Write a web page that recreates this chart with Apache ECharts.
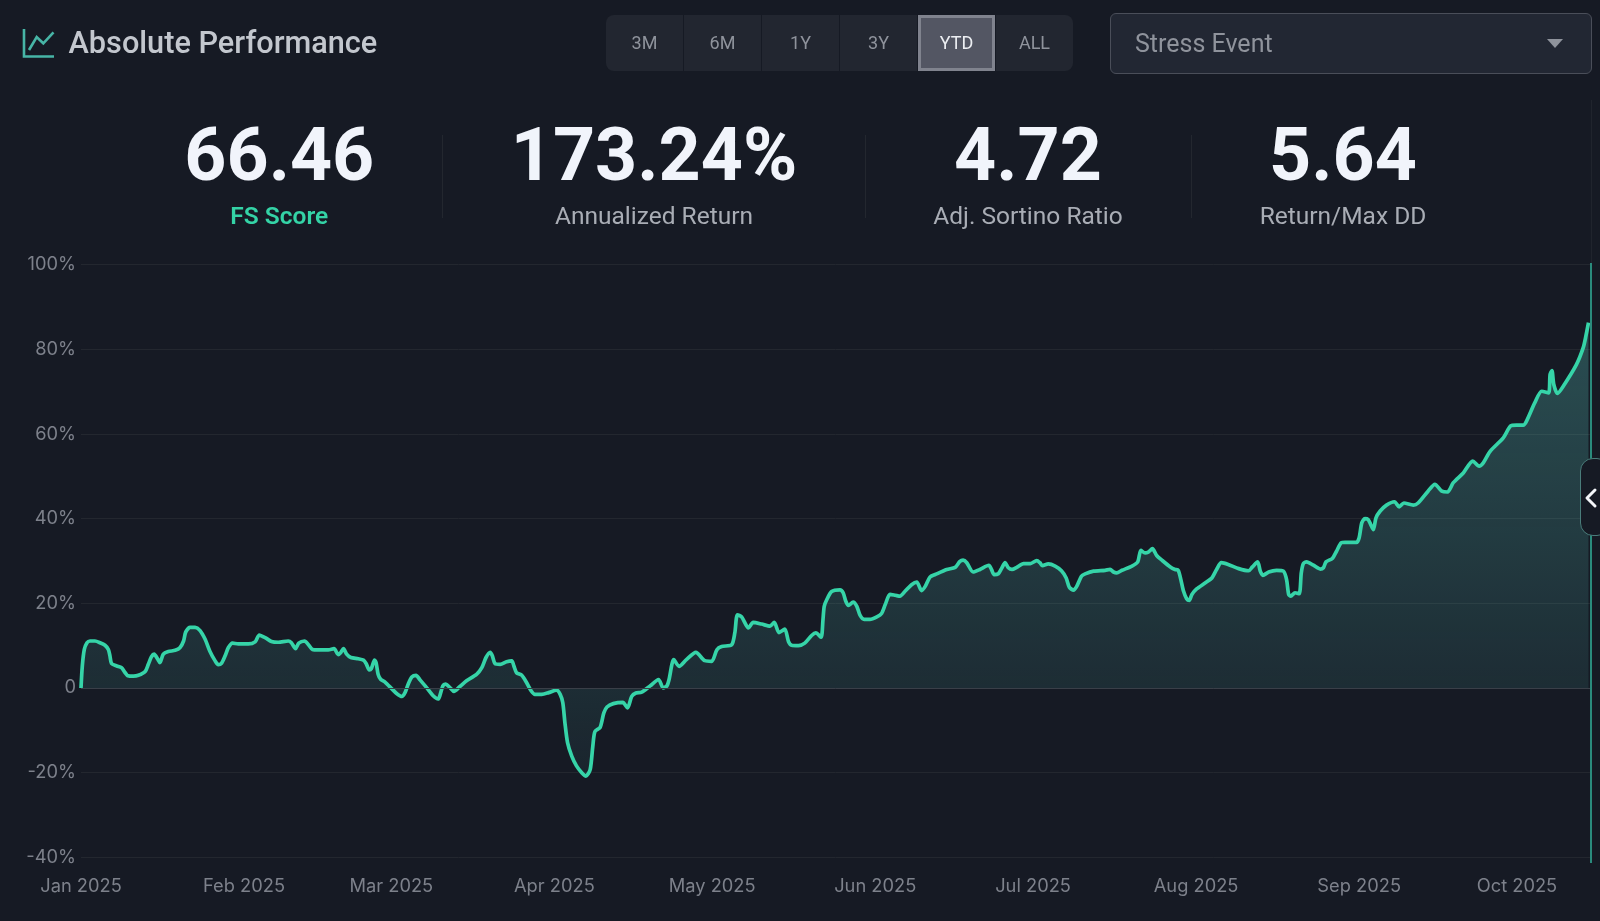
<!DOCTYPE html>
<html><head><meta charset="utf-8">
<script src="https://cdn.jsdelivr.net/npm/echarts@6/dist/echarts.min.js"></script>
<style>
html,body{margin:0;padding:0;background:#161a24;width:1600px;height:921px;overflow:hidden;font-family:Roboto,sans-serif}
#chart{position:absolute;left:0;top:0;width:1600px;height:921px}
.abs{position:absolute}
.title{left:68.5px;top:22.5px;font-size:30.7px;line-height:40px;color:#c3c7ce;font-weight:500;white-space:nowrap}
.group{left:606px;top:15px;width:467px;height:56px;background:#222630;border-radius:8px;overflow:hidden}
.btn{position:absolute;top:0;width:77px;height:56px;line-height:56px;text-align:center;font-size:18px;color:#8f939c;border-right:1px solid #161a24}
.btn.active{background:#535663;color:#eceef2;box-shadow:inset 0 0 0 3px #80838e;width:77px}
.select{left:1110px;top:13px;width:480px;height:59px;background:#222733;border:1px solid #4a4e59;border-radius:6px;box-sizing:content-box}
.select span{position:absolute;left:24px;top:0;line-height:59px;font-size:25px;color:#8f939c}
.arrow{left:1547px;top:39px;width:0;height:0;border-left:8px solid transparent;border-right:8px solid transparent;border-top:9px solid #8f939c}
.num{top:114px;transform:translateX(-50%);font-size:73.5px;line-height:82px;font-weight:700;color:#f1f4fb;white-space:nowrap}
.lab{top:200px;transform:translateX(-50%);font-size:24.5px;line-height:32px;color:#a9adb5;white-space:nowrap}
.div{top:135px;width:1px;height:83px;background:#23272f}
.rail{left:1590px;top:263px;width:2px;height:600px;background:#2a8a7c}
.railtop{left:1591px;top:100px;width:1px;height:163px;background:#20242d}
.handle{left:1580px;top:458px;width:30px;height:78px;background:#161a24;border:1px solid #4a7c7a;border-radius:13px;box-sizing:border-box}
</style></head><body>
<div id="chart"></div>
<svg class="abs" style="left:21px;top:27px" width="36" height="32" viewBox="0 0 36 32" fill="none" stroke="#47b5a6" stroke-width="2.6">
<polyline points="3,2 3,29.5 33,29.5"/><polyline points="8,23 15.7,10 22.3,16.3 32.5,5.3"/></svg>
<div class="abs title">Absolute Performance</div>
<div class="abs group" id="group"></div>
<div class="abs select"><span>Stress Event</span></div>
<div class="abs arrow"></div>
<div class="abs div" style="left:442px"></div><div class="abs div" style="left:865px"></div><div class="abs div" style="left:1191px"></div>
<div id="stats"></div>
<div class="abs railtop"></div>
<div class="abs rail"></div>
<div class="abs handle"></div>
<svg class="abs" style="left:1583px;top:486px" width="16" height="24" viewBox="0 0 16 24" fill="none" stroke="#f4f6fa" stroke-width="3" stroke-linecap="round" stroke-linejoin="round"><polyline points="12,4 4,12 12,20"/></svg>
<script>
var rangeLabels=['3M','6M','1Y','3Y','YTD','ALL'];
var activeRange='YTD';
var statValues=['66.46','173.24%','4.72','5.64'];
var statLabels=['FS Score','Annualized Return','Adj. Sortino Ratio','Return/Max DD'];
var yTicks=[-40,-20,0,20,40,60,80,100];
var dayOffsets=[0,0.25,0.63,1.14,1.71,2.66,3.61,4.56,5.2,5.5,5.8,6.8,7.7,8.4,8.9,10,10.9,12.2,12.8,13.4,13.9,14.6,15,15.65,16.6,17.9,18.8,19.5,19.9,20.7,21.7,22.6,23.6,24.5,25.5,26.1,26.7,27.4,28,28.8,29.9,31.8,33.1,33.9,35,36.2,37.5,39.4,40,40.8,41.4,42.5,43.2,44,45.1,47,48.1,48.9,49.4,49.9,50.5,51.3,52.7,53.7,54.2,54.8,55.2,55.8,56.1,56.5,57,57.8,59.1,60,61,61.6,62.2,62.9,63.7,64.4,65.7,67,67.9,68.2,68.8,69.3,70.15,70.9,72,73.3,75.2,76.2,77,77.8,78.2,78.7,79.7,80.9,81.9,82.3,82.8,83.8,84.7,85.6,86.3,87.6,88.9,90.4,91.1,91.6,92,92.5,93.3,94.2,95.2,96,96.8,97.3,97.7,98.7,99.4,100,101.2,103,103.9,104.7,105.5,106.6,108.2,109.8,110.7,111.4,111.8,112.7,113.7,115.1,116.9,118.6,119.9,120.9,121.8,123.7,124.3,124.8,125.6,126.9,127.8,129.4,131,131.8,132.7,133.8,134.5,135.1,136.4,137.6,138.9,139.7,140.7,141.06,141.3,141.8,142.7,144.3,144.9,145.4,145.9,146.8,147.5,148.1,148.9,150,151.3,152.2,152.9,153.8,154.8,155.7,156.7,157.9,158.9,159.8,160.5,161.4,162.4,164.6,166.2,167.1,167.7,168.4,169.6,170.9,172.6,173.1,173.6,174.4,175,175.7,176.3,177,177.9,179.2,180.5,181.7,182.3,182.8,183.9,185.2,186.4,187.3,187.9,188.7,189.3,190.2,190.9,192.5,194.7,195.65,196.3,196.9,197.9,199.8,200.9,201.5,202.3,202.9,203.7,204.5,205.5,207.1,208,208.6,209.1,209.6,210.2,210.7,211.2,212.1,213.7,215,215.9,216.8,218.1,220.1,222,222.7,223.7,224.2,224.7,225.8,227.3,228.6,229.2,229.6,230,230.8,231.6,232,232.4,233,234.3,235.6,236.2,236.7,237.9,238.7,239.6,240.3,242.5,243,243.5,244.1,244.7,245.2,245.7,246.2,247,248.2,249.7,250.6,251.5,253.3,254.2,256.1,257.4,258.7,259.8,260.9,262.8,264.6,265.8,266.6,267.9,270.4,271.8,272.9,274.2,274.8,276.4,277.7,279,279.3,279.65,280,280.7,281.8,284.3,285.6,286.1,286.6];
var returnPct=[0,5.2,9.1,10.7,11.1,11.1,10.7,10.1,9.1,7.6,5.8,5.2,4.8,3.6,2.9,2.8,3,3.9,5.6,7.4,8,6.8,6,8,8.6,8.9,9.5,11.1,13.2,14.3,14.3,13.6,11.5,8.7,6.4,5.5,5.8,7.6,9.5,10.6,10.4,10.4,10.9,12.5,11.9,11,10.8,11.1,10.7,9.3,10.6,11.1,10.3,9.1,9,9,9.3,7.9,8.4,9.3,8,7.2,6.9,6.6,5.8,4.3,4.6,6.6,6,3.2,2,1.4,-0.2,-1.3,-2,-1.1,0.9,2.6,3,2,0.1,-1.9,-2.6,-1.9,0.5,0.9,0.1,-0.8,0.3,1.7,3.2,4.8,7.2,8.4,7.6,5.8,5.6,6.2,6.4,5.2,3.6,3,1.3,-0.7,-1.5,-1.5,-1.1,-0.5,-1.5,-3.5,-8.2,-12.9,-16.1,-18.4,-20,-20.8,-19.3,-13.8,-10.3,-9.3,-5.9,-4.5,-3.7,-3.4,-4.7,-2,-1.2,-1,0.5,2,0,0.5,2,6.7,5.1,6.7,8.4,6.45,6.3,9.05,9.8,10.2,13,17.3,16.8,14.2,15.5,15.1,14.6,15.5,13.1,13.9,11,10.1,10,10.6,12.4,13,12,16.1,19.3,20.9,22.8,23.2,22.5,20.5,19.5,20.3,19.3,17.2,16.2,16.2,16.8,17.6,19.7,22.1,21.9,21.7,22.9,24.4,25,23,24,26.2,26.8,28,28.5,29.9,30.2,29.6,27.4,28,29,28,26.8,27,28.2,29.6,28.4,28,28.5,29.4,29.4,30.1,29.6,28.9,29.3,28.8,27.7,26,23.8,23.1,24,26.4,26.95,27.6,27.8,28,27.4,27.2,27.8,28.8,29.8,32.5,31.9,32.1,32.9,31.3,30.2,28.6,28,27.8,25.6,22.9,21.1,20.7,22.1,23.4,24.8,26,28,29.6,29.2,28.2,27.7,28.6,29.8,27.6,26.6,27.4,27.8,27.6,25.6,22.1,21.7,22.5,22.3,27.2,29.4,29.8,29,28.1,28.4,29.8,30.6,32.3,34.3,34.4,34.4,35.5,39,40,39.8,38.6,37.4,40.2,41.8,43.2,44,42.8,43.7,43.2,43.7,46.5,48.1,46.5,46.3,48.5,50.8,53.6,52.4,53.2,55.9,59.1,61.9,62.1,62.1,63,67.4,70.1,69.7,74.1,75,71.7,69.6,71.3,76.4,80.4,83.1,86.3];

var monthNames=['Jan','Feb','Mar','Apr','May','Jun','Jul','Aug','Sep','Oct','Nov','Dec'];
var t0=new Date(2025,0,1).getTime();
var points=dayOffsets.map(function(d,i){return [t0+d*864e5,returnPct[i]];});

var group=document.getElementById('group');
rangeLabels.forEach(function(l,i){
  var b=document.createElement('div');b.className='btn'+(l===activeRange?' active':'');
  b.style.left=(i*78-0)+'px';b.textContent=l;group.appendChild(b);
});
var centers=[279.3,654,1028,1343];
var st=document.getElementById('stats');
statValues.forEach(function(v,i){
  var n=document.createElement('div');n.className='abs num';n.style.left=centers[i]+'px';n.textContent=v;st.appendChild(n);
  var l=document.createElement('div');l.className='abs lab';l.style.left=centers[i]+'px';l.textContent=statLabels[i];
  if(i===0){l.style.color='#34d3a6';l.style.fontWeight='600';}
  st.appendChild(l);
});

var chart=echarts.init(document.getElementById('chart'),null,{renderer:'canvas'});
chart.setOption({
  animation:false,
  backgroundColor:'transparent',
  grid:{left:81,top:264.7,width:1509.6,height:592.6,containLabel:false},
  xAxis:{type:'time',min:t0,max:new Date(2025,9,15).getTime(),splitNumber:10,
    axisLine:{show:false},axisTick:{show:false},splitLine:{show:false},
    axisLabel:{color:'#7d818b',fontFamily:'Inter',fontSize:18.3,margin:20,showMaxLabel:false,hideOverlap:false,
      formatter:function(v){var d=new Date(v);return monthNames[d.getMonth()]+' '+d.getFullYear();}}},
  yAxis:{type:'value',min:yTicks[0],max:yTicks[yTicks.length-1],interval:20,
    axisLine:{show:false},axisTick:{show:false},
    splitLine:{lineStyle:{color:'#23272f',width:1}},
    axisLabel:{color:'#7d818b',fontFamily:'Inter',fontSize:18.3,margin:5,padding:[5,0,0,0],
      formatter:function(v){return v===0?'0':v+'%';}}},
  series:[{type:'line',data:points,smooth:0.25,showSymbol:false,clip:false,
    lineStyle:{color:'#36d4a8',width:3.7},
    areaStyle:{color:{type:'linear',x:0,y:0,x2:0,y2:1,colorStops:[
      {offset:0,color:'rgba(90,200,190,0.43)'},{offset:1,color:'rgba(90,200,190,0.09)'}]}},
    markLine:{silent:true,symbol:'none',label:{show:false},
      lineStyle:{color:'#3a3f48',width:1,type:'solid'},data:[{yAxis:0}]}}]
});
</script>
</body></html>
